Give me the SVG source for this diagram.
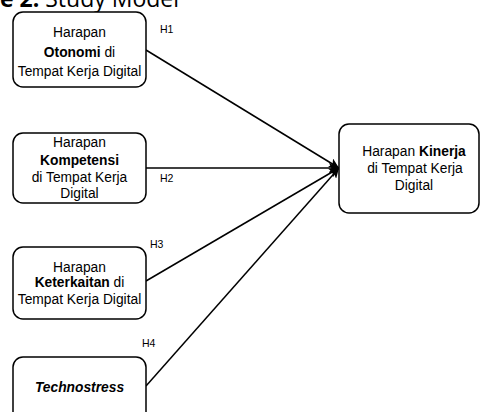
<svg xmlns="http://www.w3.org/2000/svg" width="480" height="412" viewBox="0 0 480 412">
<defs>
<marker id="arr" viewBox="0 0 10 10" refX="10" refY="5" markerWidth="10" markerHeight="10" markerUnits="userSpaceOnUse" orient="auto">
<path d="M0,0 L10,5 L0,10 L2.5,5 Z" fill="#000"/>
</marker>
</defs>
<style>
.box{fill:#fff;stroke:#000;stroke-width:1.5}
.t{font-family:"Liberation Sans",Arial,sans-serif;font-size:13.8px;fill:#000;text-anchor:middle}
.b{font-weight:bold}
.lbl{font-family:"Liberation Sans",Arial,sans-serif;font-size:10.5px;fill:#000}
.edge{stroke:#000;stroke-width:1.5;fill:none;marker-end:url(#arr)}
.title{font-family:"Open Sans",sans-serif;font-size:23px;fill:#000}
</style>
<rect width="480" height="412" fill="#fff"/>
<text class="title" x="0" y="7"><tspan font-weight="bold">e 2.</tspan> Study Model</text>
<g id="edges">
<line class="edge" x1="146" y1="50" x2="339" y2="168"/>
<line class="edge" x1="146" y1="168" x2="339" y2="168"/>
<line class="edge" x1="146" y1="281" x2="339" y2="168"/>
<line class="edge" x1="146" y1="386" x2="339" y2="168"/>
<text class="lbl" x="160" y="33">H1</text>
<text class="lbl" x="160" y="182">H2</text>
<text class="lbl" x="150" y="248">H3</text>
<text class="lbl" x="142" y="347">H4</text>
</g>
<g id="n1">
<rect class="box" x="13" y="12" width="133" height="75" rx="10"/>
<text class="t" x="79.5" y="37">Harapan</text>
<text class="t" x="79.5" y="57"><tspan class="b">Otonomi</tspan> di</text>
<text class="t" x="79.5" y="76">Tempat Kerja Digital</text>
</g>
<g id="n2">
<rect class="box" x="13" y="133" width="133" height="70" rx="10"/>
<text class="t" x="79.5" y="147">Harapan</text>
<text class="t b" x="79.5" y="165">Kompetensi</text>
<text class="t" x="79.5" y="182">di Tempat Kerja</text>
<text class="t" x="79.5" y="198">Digital</text>
</g>
<g id="n3">
<rect class="box" x="13" y="247" width="133" height="72" rx="10"/>
<text class="t" x="79.5" y="272">Harapan</text>
<text class="t" x="79.5" y="287"><tspan class="b">Keterkaitan</tspan> di</text>
<text class="t" x="79.5" y="304">Tempat Kerja Digital</text>
</g>
<g id="n4">
<rect class="box" x="13" y="357" width="133" height="70" rx="10"/>
<text class="t b" x="79.5" y="392" font-style="italic">Technostress</text>
</g>
<g id="target">
<rect class="box" x="339" y="124" width="140" height="89" rx="10"/>
<text class="t" x="414" y="156">Harapan <tspan class="b">Kinerja</tspan></text>
<text class="t" x="415" y="173">di Tempat Kerja</text>
<text class="t" x="414" y="190">Digital</text>
</g>
</svg>
